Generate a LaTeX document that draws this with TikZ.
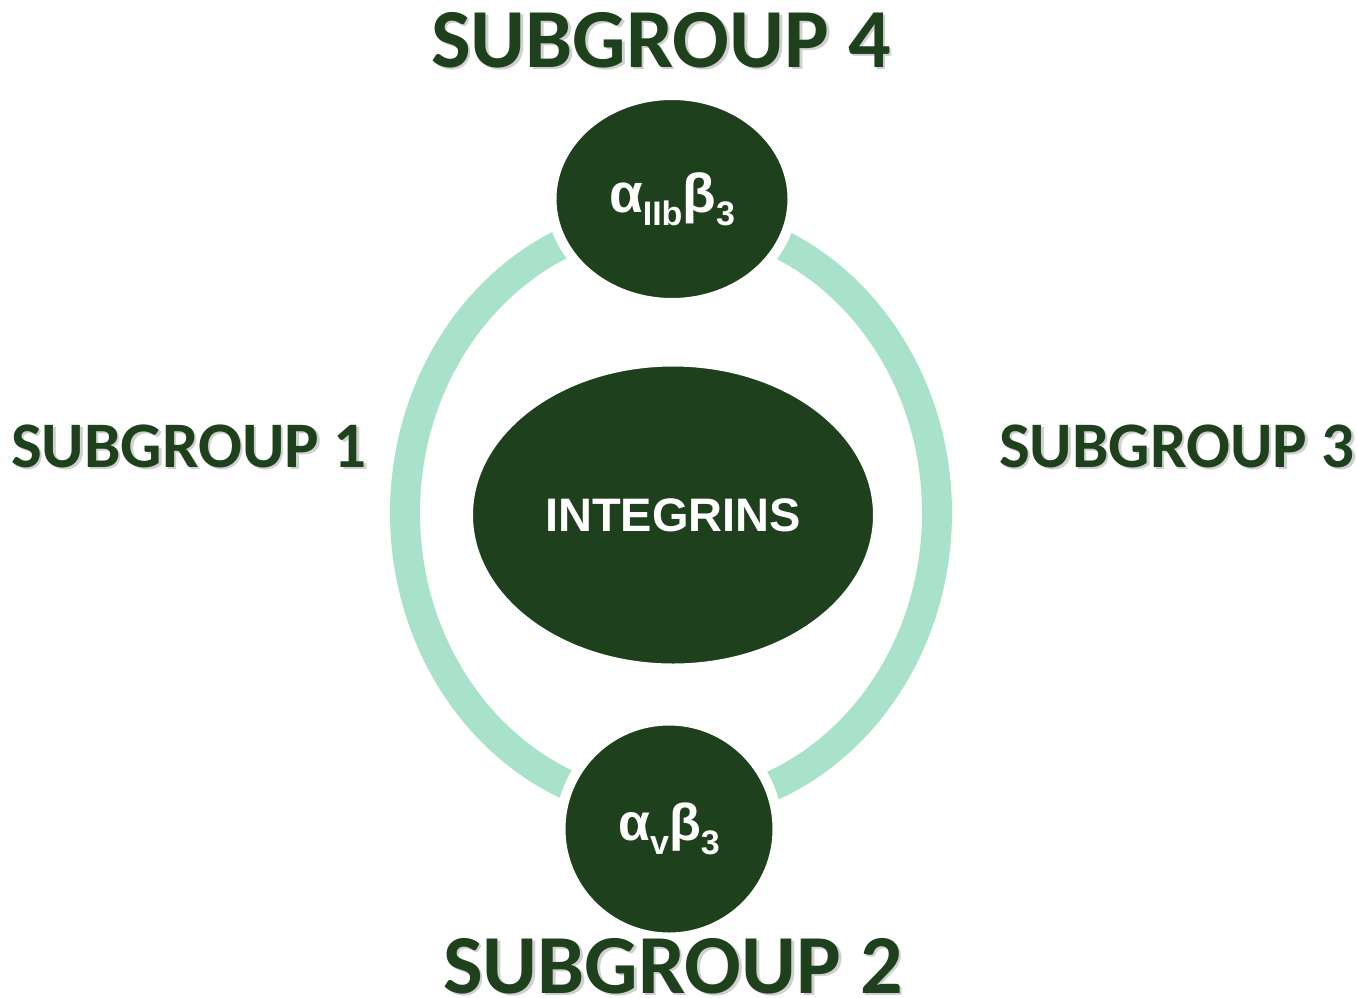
\documentclass[tikz,border=0pt]{standalone}
\usepackage{fontspec}
\usetikzlibrary{shapes.geometric}
\newfontfamily\labfont{Carlito}
\newfontfamily\inner{Liberation Sans}
\definecolor{deepgreen}{HTML}{1E401C}
\definecolor{mint}{HTML}{A8E2CA}
\definecolor{shade}{HTML}{8A8A8A}
\tikzset{
  ring/.style={draw=mint, line width=30},
  blob/.style={ellipse, fill=deepgreen, draw=white, line width=10, inner sep=0pt,
    text=white, font=\inner\bfseries},
  grouplabel/.style={text=deepgreen, inner sep=0pt},
  grouplabelshadow/.style={text=shade, opacity=0.4, inner sep=0pt},
}
\newcommand{\biglab}{\labfont\bfseries\fontsize{84}{84}\selectfont}
\newcommand{\sidelab}{\labfont\bfseries\fontsize{65}{65}\selectfont}
% lowered subscript for the integrin names
\newcommand{\lowsub}[2]{\raisebox{-#1pt}{\fontsize{34}{34}\selectfont #2}}
\begin{document}
\begin{tikzpicture}[x=1pt, y=-1pt]
  \useasboundingbox (0,0) rectangle (1357,997);
  % outer ring linking the two subgroup members
  \draw[ring] (671,513) ellipse [x radius=266, y radius=295];
  % central and member nodes
  \node[blob, minimum width=410, minimum height=307, font=\inner\bfseries\fontsize{47}{47}\selectfont]
    (core) at (673,515) {INTEGRINS};
  \node[blob, minimum width=241, minimum height=208, font=\inner\bfseries\fontsize{55}{55}\selectfont]
    (top) at (672,199) {α\lowsub{13}{IIb}β\lowsub{13}{3}};
  \node[blob, minimum width=217, minimum height=217, font=\inner\bfseries\fontsize{52}{52}\selectfont]
    (bot) at (669,829) {α\lowsub{14}{v}β\lowsub{14}{3}};
  % subgroup labels with soft drop shadow
  \foreach \nm/\px/\py/\fs/\txt in {g4/661/40/\biglab/SUBGROUP 4, g2/673/966/\biglab/SUBGROUP 2,
      g1/189/446/\sidelab/SUBGROUP 1, g3/1177/446/\sidelab/SUBGROUP 3} {
    \node[grouplabelshadow, font=\fs] at (\px+2.5,\py+2.5) {\txt};
    \node[grouplabel, font=\fs] (\nm) at (\px,\py) {\txt};
  }
\end{tikzpicture}
\end{document}
